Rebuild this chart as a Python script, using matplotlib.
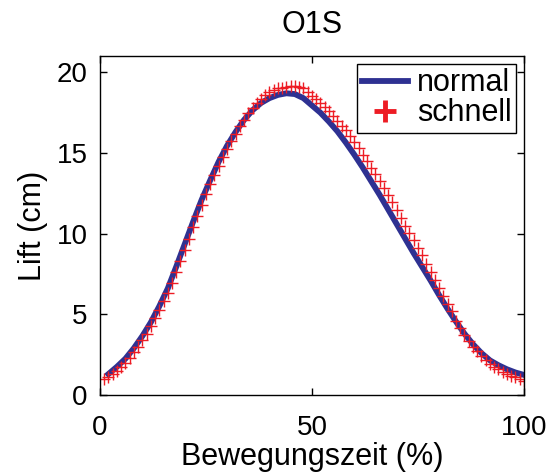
import numpy as np
import matplotlib
matplotlib.use('Agg')
import matplotlib.pyplot as plt
from matplotlib.lines import Line2D

plt.rcParams['font.family'] = ['Liberation Sans', 'DejaVu Sans']

# normal: Linie, alle 2 %
x_normal = np.arange(2, 101, 2)
y_normal = [1.3, 1.75, 2.25, 2.9, 3.65, 4.5, 5.5, 6.6, 7.95, 9.35,
            10.75, 12.1, 13.3, 14.45, 15.45, 16.3, 17.05, 17.65, 18.1, 18.4,
            18.6, 18.7, 18.65, 18.4, 17.95, 17.5, 16.95, 16.35, 15.65, 14.9,
            14.1, 13.25, 12.4, 11.5, 10.6, 9.7, 8.8, 7.95, 7.1, 6.2,
            5.35, 4.55, 3.8, 3.15, 2.6, 2.15, 1.85, 1.6, 1.4, 1.25]

# schnell: Marker, alle 1 %
x_schnell = np.arange(1, 101)
y_schnell = [1.0, 1.15, 1.3, 1.5, 1.75, 2.0, 2.3, 2.65, 3.0, 3.4,
             3.8, 4.25, 4.75, 5.25, 5.8, 6.35, 6.95, 7.6, 8.3, 9.0,
             9.7, 10.4, 11.1, 11.8, 12.45, 13.05, 13.65, 14.2, 14.75, 15.25,
             15.75, 16.2, 16.65, 17.05, 17.45, 17.8, 18.1, 18.35, 18.6, 18.8,
             18.9, 19.0, 19.05, 19.1, 19.15, 19.15, 19.1, 19.0, 18.8, 18.55,
             18.35, 18.1, 17.85, 17.6, 17.3, 17.0, 16.7, 16.4, 16.05, 15.7,
             15.3, 14.9, 14.5, 14.1, 13.7, 13.25, 12.85, 12.4, 11.95, 11.45,
             11.0, 10.5, 10.05, 9.6, 9.1, 8.65, 8.15, 7.65, 7.15, 6.65,
             6.15, 5.65, 5.2, 4.6, 4.15, 3.75, 3.35, 3.0, 2.7, 2.4,
             2.15, 1.95, 1.75, 1.6, 1.45, 1.3, 1.2, 1.1, 1.0, 0.9]

blau = '#2e3192'
rot = '#ed1c24'

fig = plt.figure(figsize=(5.52, 4.72), dpi=100)
ax = fig.add_axes([0.181, 0.163, 0.768, 0.718])

ax.plot(x_schnell, y_schnell, '+', color=rot, markersize=9, markeredgewidth=1.0, zorder=2)
ax.plot(x_normal, y_normal, '-', color=blau, linewidth=4.2, zorder=1)

ax.set_xlim(0, 100)
ax.set_ylim(0, 21)
ax.set_xticks([0, 50, 100])
ax.set_yticks([0, 5, 10, 15, 20])
ax.tick_params(direction='in', length=5, width=1, top=True, right=True, labelsize=20)
ax.tick_params(axis='x', pad=14)
ax.tick_params(axis='y', pad=9)
for s in ax.spines.values():
    s.set_linewidth(1.0)

ax.set_xlabel('Bewegungszeit (%)', fontsize=22, labelpad=1)
ax.set_ylabel('Lift (cm)', fontsize=22, labelpad=6)
ax.set_title('O1S', fontsize=22, pad=17)

handles = [Line2D([], [], color=blau, linewidth=4.2),
           Line2D([], [], color=rot, marker='+', linestyle='none', markersize=16, markeredgewidth=3.5)]
leg = ax.legend(handles, ['normal', 'schnell'], loc='upper right', fontsize=22,
                frameon=True, fancybox=False, edgecolor='black', framealpha=1,
                borderaxespad=0.25, borderpad=0.15, handlelength=1.5, handletextpad=0.3,
                labelspacing=0.0)
leg.get_frame().set_linewidth(1.0)

fig.savefig('out.png', dpi=100)
